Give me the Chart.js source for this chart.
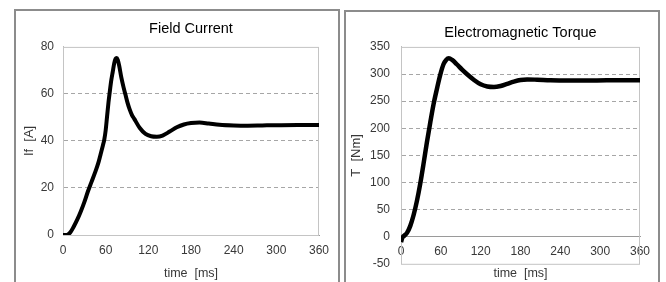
<!DOCTYPE html>
<html>
<head>
<meta charset="utf-8">
<script src="https://cdn.jsdelivr.net/npm/chart.js@4/dist/chart.umd.min.js"></script>
<style>
  html, body { margin: 0; padding: 0; background: #fff; width: 666px; height: 282px; overflow: hidden; }
  .box { position: absolute; border: 2px solid #8c8c8c; box-sizing: border-box; }
  canvas { position: absolute; }
</style>
</head>
<body>
<div class="box" style="left:14px; top:9px; width:326px; height:300px;"></div>
<div class="box" style="left:344px; top:10px; width:316px; height:300px;"></div>
<canvas id="field" width="326" height="273" style="left:14px; top:9px;"></canvas>
<canvas id="torque" width="315" height="272" style="left:345px; top:10px;"></canvas>
<script>
// Field current [A] vs time [ms]
const timeField = [0, 5, 10, 15, 20, 25, 30, 35, 40, 45, 50, 53, 56, 58, 60, 62, 64, 66, 68, 70, 72, 74, 75.5, 77, 79, 82, 85, 88, 91, 94, 97, 100, 108, 116, 124, 132, 140, 150, 160, 170, 180, 192, 205, 220, 240, 260, 280, 300, 330, 360];
const currentField = [0, 0, 1, 3.5, 6.5, 10, 14, 18.5, 22.5, 26.5, 31, 34.5, 38, 40.5, 44.5, 50.5, 56.5, 61.5, 66, 69.5, 73, 75, 75.3, 74.5, 72, 67, 63, 59.5, 56, 53.2, 51, 49.5, 45.5, 43, 42, 41.8, 42.3, 44, 45.8, 47, 47.6, 47.8, 47.4, 46.9, 46.6, 46.5, 46.6, 46.7, 46.8, 46.8];

// Electromagnetic torque [Nm] vs time [ms]
const timeTorque = [0, 2, 5, 9, 14, 19, 24, 29, 34, 39, 44, 49, 54, 59, 64, 68, 72, 77, 84, 92, 100, 110, 120, 130, 140, 150, 160, 170, 180, 190, 205, 225, 250, 280, 310, 340, 360];
const torqueVals = [-10, -2, 2, 7, 20, 40, 66, 98, 135, 174, 210, 244, 272, 298, 318, 326, 329, 326, 318, 308, 299, 289, 281, 277, 276, 278, 282, 286, 289, 290, 289.5, 288.5, 288, 288, 288.5, 288.5, 288.5];

const FONT = "'Liberation Sans', Arial, sans-serif";
const TXT = '#383838';

// light grey frame around the plot area
const plotFrame = {
  id: 'plotFrame',
  beforeDatasetsDraw(chart) {
    const a = chart.chartArea, ctx = chart.ctx;
    ctx.save();
    ctx.strokeStyle = '#c4c4c4';
    ctx.lineWidth = 1;
    ctx.strokeRect(a.left + 0.5, a.top + 0.5, a.right - a.left - 1, a.bottom - a.top);
    ctx.restore();
  }
};

function makeChart(id, xs, ys, opt) {
  const pts = xs.map((x, i) => ({ x: x, y: ys[i] }));
  return new Chart(document.getElementById(id), {
    type: 'line',
    data: { datasets: [{ data: pts, borderColor: '#000', borderWidth: opt.lineWidth, pointRadius: 0, cubicInterpolationMode: 'monotone' }] },
    plugins: [plotFrame],
    options: {
      responsive: false,
      animation: false,
      layout: { padding: { left: 0, right: opt.padRight, top: 0, bottom: 0 } },
      plugins: {
        legend: { display: false },
        tooltip: { enabled: false },
        title: {
          display: true, text: opt.title, color: '#000', fullSize: false,
          font: { family: FONT, size: 14.5, weight: 'normal' },
          padding: opt.titlePad
        }
      },
      scales: {
        x: {
          type: 'linear', min: 0, max: 360,
          position: opt.xPos,
          afterFit: s => { s.height = opt.xHeight; },
          ticks: { stepSize: 60, color: TXT, padding: 8, font: { family: FONT, size: 12 } },
          grid: { display: false, drawTicks: false },
          border: { display: true, color: '#9a9a9a', width: 1 },
          title: { display: true, text: 'time  [ms]', color: TXT, font: { family: FONT, size: 12.5 }, padding: opt.xTitlePad }
        },
        y: {
          min: opt.yMin, max: opt.yMax,
          afterFit: s => { s.width = opt.yWidth; },
          ticks: { stepSize: opt.yStep, color: TXT, padding: opt.yTickPad, font: { family: FONT, size: 12 } },
          grid: {
            drawTicks: false, lineWidth: 1,
            color: c => (c.tick && (c.tick.value === opt.yMin || c.tick.value === opt.yMax || c.tick.value === 0)) ? 'rgba(0,0,0,0)' : '#a6a6a6'
          },
          border: { display: true, color: '#bdbdbd', dash: [4, 3] },
          title: { display: true, text: opt.yTitle, color: TXT, font: { family: FONT, size: 13 }, padding: { top: opt.yTitleTop, bottom: 0 } }
        }
      }
    }
  });
}

makeChart('field', timeField, currentField, {
  title: 'Field Current', titlePad: { top: 11, bottom: 9.5 }, lineWidth: 4,
  padRight: 21, xPos: 'bottom', xHeight: 47, xTitlePad: { top: 0, bottom: 1 },
  yMin: 0, yMax: 80, yStep: 20, yWidth: 49, yTickPad: 9,
  yTitle: 'If  [A]', yTitleTop: 8
});

makeChart('torque', timeTorque, torqueVals, {
  title: 'Electromagnetic Torque', titlePad: { top: 14, bottom: 5.5 }, lineWidth: 4.5,
  padRight: 20, xPos: { y: 0 }, xHeight: 25, xTitlePad: { top: 0, bottom: -19 },
  yMin: -50, yMax: 350, yStep: 50, yWidth: 56, yTickPad: 11,
  yTitle: 'T  [Nm]', yTitleTop: 4
});
</script>
</body>
</html>
